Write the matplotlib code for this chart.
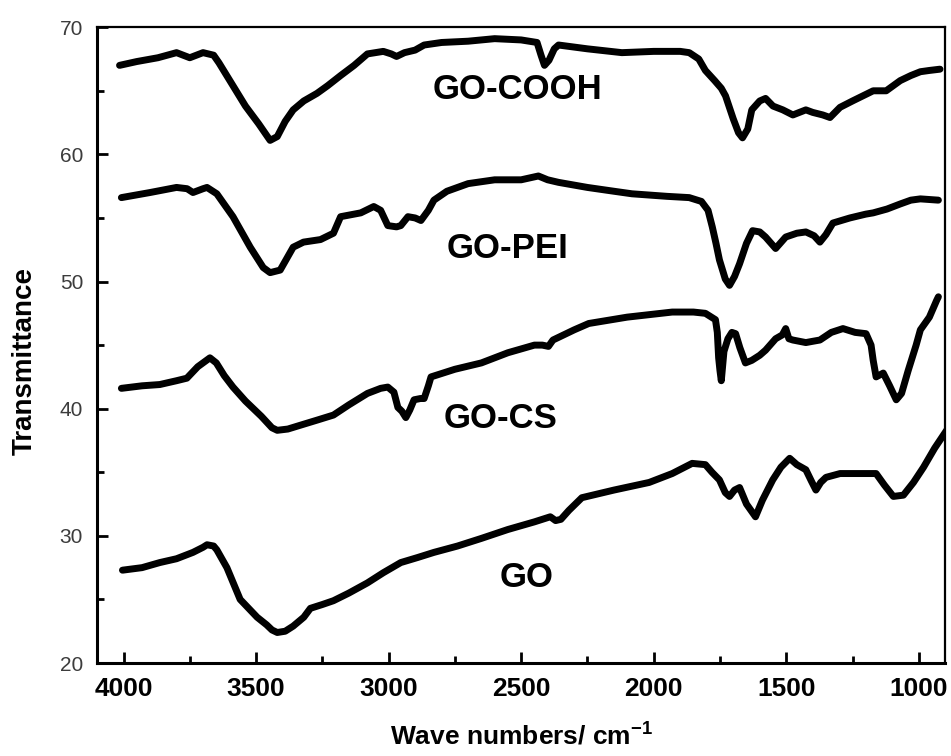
import matplotlib.pyplot as plt
from matplotlib.ticker import MultipleLocator

# FTIR spectra (wavenumber in cm-1, transmittance)
cooh_wn = [4015, 3950, 3870, 3800, 3750, 3700, 3660, 3640, 3590, 3540, 3490, 3447,
           3420, 3390, 3360, 3320, 3270, 3230, 3181, 3130, 3080, 3020, 2990, 2970,
           2940, 2900, 2866, 2800, 2700, 2600, 2500, 2440, 2425, 2412, 2395, 2375,
           2359, 2250, 2120, 2000, 1900, 1866, 1830, 1805, 1770, 1745, 1729, 1700,
           1680, 1665, 1645, 1630, 1600, 1578, 1550, 1513, 1475, 1426, 1400, 1362,
           1335, 1297, 1250, 1172, 1123, 1070, 1030, 994, 960, 920]
cooh_t = [67.0, 67.3, 67.6, 68.0, 67.6, 68.0, 67.8, 67.2, 65.5, 63.8, 62.4, 61.1,
          61.4, 62.6, 63.5, 64.2, 64.8, 65.4, 66.2, 67.0, 67.9, 68.1, 67.9, 67.7,
          68.0, 68.2, 68.6, 68.8, 68.9, 69.1, 69.0, 68.8, 67.8, 67.0, 67.4, 68.3,
          68.6, 68.3, 68.0, 68.1, 68.1, 68.0, 67.5, 66.6, 65.8, 65.2, 64.6, 62.8,
          61.7, 61.3, 62.0, 63.5, 64.2, 64.4, 63.8, 63.5, 63.1, 63.5, 63.3, 63.1,
          62.9, 63.7, 64.2, 65.0, 65.0, 65.8, 66.2, 66.5, 66.6, 66.7]

pei_wn = [4008, 3900, 3800, 3760, 3738, 3700, 3685, 3648, 3587, 3522, 3473, 3447,
          3409, 3360, 3321, 3257, 3208, 3181, 3105, 3056, 3030, 3003, 2970, 2954,
          2927, 2900, 2878, 2850, 2829, 2780, 2700, 2600, 2500, 2435, 2400, 2359,
          2250, 2150, 2082, 1950, 1866, 1820, 1795, 1779, 1765, 1752, 1730, 1714,
          1695, 1676, 1650, 1627, 1600, 1578, 1540, 1502, 1460, 1426, 1395, 1373,
          1350, 1324, 1260, 1200, 1172, 1120, 1070, 1030, 994, 926]
pei_t = [56.6, 57.0, 57.4, 57.3, 57.0, 57.3, 57.4, 56.9, 55.1, 52.7, 51.1, 50.7,
         50.9, 52.7, 53.1, 53.3, 53.8, 55.1, 55.4, 55.9, 55.6, 54.4, 54.3, 54.4,
         55.1, 55.0, 54.8, 55.6, 56.4, 57.1, 57.7, 58.0, 58.0, 58.3, 58.0, 57.8,
         57.4, 57.1, 56.9, 56.7, 56.6, 56.3, 55.6, 54.3, 53.0, 51.7, 50.2, 49.7,
         50.4, 51.4, 53.0, 54.0, 53.9, 53.5, 52.6, 53.5, 53.8, 53.9, 53.6, 53.1,
         53.7, 54.6, 55.0, 55.3, 55.4, 55.7, 56.1, 56.4, 56.5, 56.4]

cs_wn = [4008, 3930, 3863, 3800, 3761, 3720, 3674, 3650, 3620, 3587, 3540, 3480,
         3440, 3420, 3380, 3333, 3270, 3208, 3150, 3080, 3030, 3003, 2980, 2965,
         2950, 2935, 2920, 2904, 2880, 2866, 2850, 2840, 2750, 2650, 2550, 2450,
         2420, 2397, 2380, 2300, 2245, 2100, 1930, 1850, 1805, 1767, 1760, 1755,
         1750, 1745, 1735, 1720, 1705, 1691, 1675, 1654, 1630, 1600, 1578, 1540,
         1515, 1502, 1490, 1475, 1426, 1400, 1373, 1330, 1286, 1240, 1199, 1180,
         1172, 1161, 1134, 1110, 1085, 1065, 1040, 1010, 994, 960, 933, 926]
cs_t = [41.6, 41.8, 41.9, 42.2, 42.4, 43.3, 44.0, 43.6, 42.6, 41.7, 40.6, 39.4,
        38.5, 38.3, 38.4, 38.7, 39.1, 39.5, 40.3, 41.2, 41.6, 41.7, 41.3, 40.1,
        39.8, 39.3, 39.9, 40.7, 40.8, 40.8, 41.8, 42.5, 43.1, 43.6, 44.4, 45.0,
        45.0, 44.9, 45.4, 46.2, 46.7, 47.2, 47.6, 47.6, 47.5, 47.0, 46.0, 44.0,
        43.0, 42.2, 44.5, 45.5, 46.0, 45.9, 44.8, 43.6, 43.8, 44.2, 44.6, 45.5,
        45.8, 46.3, 45.5, 45.4, 45.2, 45.3, 45.4, 46.0, 46.3, 46.0, 45.9, 45.0,
        43.8, 42.5, 42.8, 41.8, 40.7, 41.2, 43.0, 45.0, 46.2, 47.2, 48.5, 48.8]

go_wn = [4004, 3930, 3863, 3800, 3738, 3700, 3685, 3660, 3648, 3610, 3560, 3496,
         3460, 3440, 3420, 3390, 3360, 3320, 3295, 3250, 3208, 3150, 3080, 3020,
         2954, 2890, 2829, 2740, 2650, 2550, 2450, 2390, 2370, 2350, 2320, 2271,
         2150, 2017, 1930, 1855, 1805, 1780, 1752, 1730, 1714, 1695, 1676, 1650,
         1616, 1590, 1551, 1520, 1487, 1460, 1426, 1405, 1388, 1370, 1350, 1297,
         1230, 1161, 1130, 1096, 1058, 1020, 982, 940, 895]
go_t = [27.3, 27.5, 27.9, 28.2, 28.7, 29.1, 29.3, 29.2, 28.9, 27.5, 25.0, 23.6,
        23.0, 22.6, 22.4, 22.5, 22.9, 23.6, 24.3, 24.6, 24.9, 25.5, 26.3, 27.1,
        27.9, 28.3, 28.7, 29.2, 29.8, 30.5, 31.1, 31.5, 31.2, 31.3, 32.0, 33.0,
        33.6, 34.2, 34.9, 35.7, 35.6, 35.0, 34.4, 33.4, 33.1, 33.6, 33.8, 32.5,
        31.5, 32.8, 34.4, 35.4, 36.1, 35.6, 35.2, 34.3, 33.6, 34.2, 34.6, 34.9,
        34.9, 34.9, 34.0, 33.1, 33.2, 34.2, 35.4, 36.9, 38.3]

labels = ["GO-COOH", "GO-PEI", "GO-CS", "GO"]
label_wn = [2514, 2550, 2576, 2480]
label_t = [64.35, 51.85, 38.5, 26.0]

plt.rcParams["font.family"] = ["Liberation Sans", "DejaVu Sans"]
plt.rcParams["mathtext.fontset"] = "custom"
plt.rcParams["mathtext.rm"] = "Liberation Sans:bold"
plt.rcParams["mathtext.default"] = "rm"

fig = plt.figure(figsize=(9.51, 7.56), dpi=100)
ax = fig.add_axes([0.102, 0.123, 0.892, 0.841])

for wn, t in [(cooh_wn, cooh_t), (pei_wn, pei_t), (cs_wn, cs_t), (go_wn, go_t)]:
    ax.plot(wn, t, color="black", linewidth=5, solid_joinstyle="round",
            solid_capstyle="round")

for name, x, y in zip(labels, label_wn, label_t):
    ax.text(x, y, name, ha="center", va="baseline", fontsize=25,
            fontweight="bold")

ax.set_xlim(4100, 900)
ax.set_ylim(20, 70)
ax.xaxis.set_major_locator(MultipleLocator(500))
ax.xaxis.set_minor_locator(MultipleLocator(250))
ax.yaxis.set_major_locator(MultipleLocator(10))
ax.yaxis.set_minor_locator(MultipleLocator(5))

ax.tick_params(which="both", direction="in", top=False, right=False, width=2)
ax.tick_params(which="major", length=8)
ax.tick_params(which="minor", length=5)
ax.tick_params(axis="x", labelsize=19, pad=10)
ax.tick_params(axis="y", labelsize=15, pad=10, labelcolor="#3c3c3c")
for lab in ax.get_xticklabels():
    lab.set_fontweight("bold")

for side in ["left", "bottom"]:
    ax.spines[side].set_linewidth(2.2)
for side in ["top", "right"]:
    ax.spines[side].set_linewidth(1.6)

fig.text(0.026, 0.522, "Transmittance", rotation=90, ha="center", va="center",
         fontsize=20, fontweight="bold")
fig.text(0.548, 0.014, "Wave numbers/ cm$^{-1}$", ha="center", va="baseline",
         fontsize=19, fontweight="bold")

fig.savefig("out.png", dpi=100)
plt.close(fig)
